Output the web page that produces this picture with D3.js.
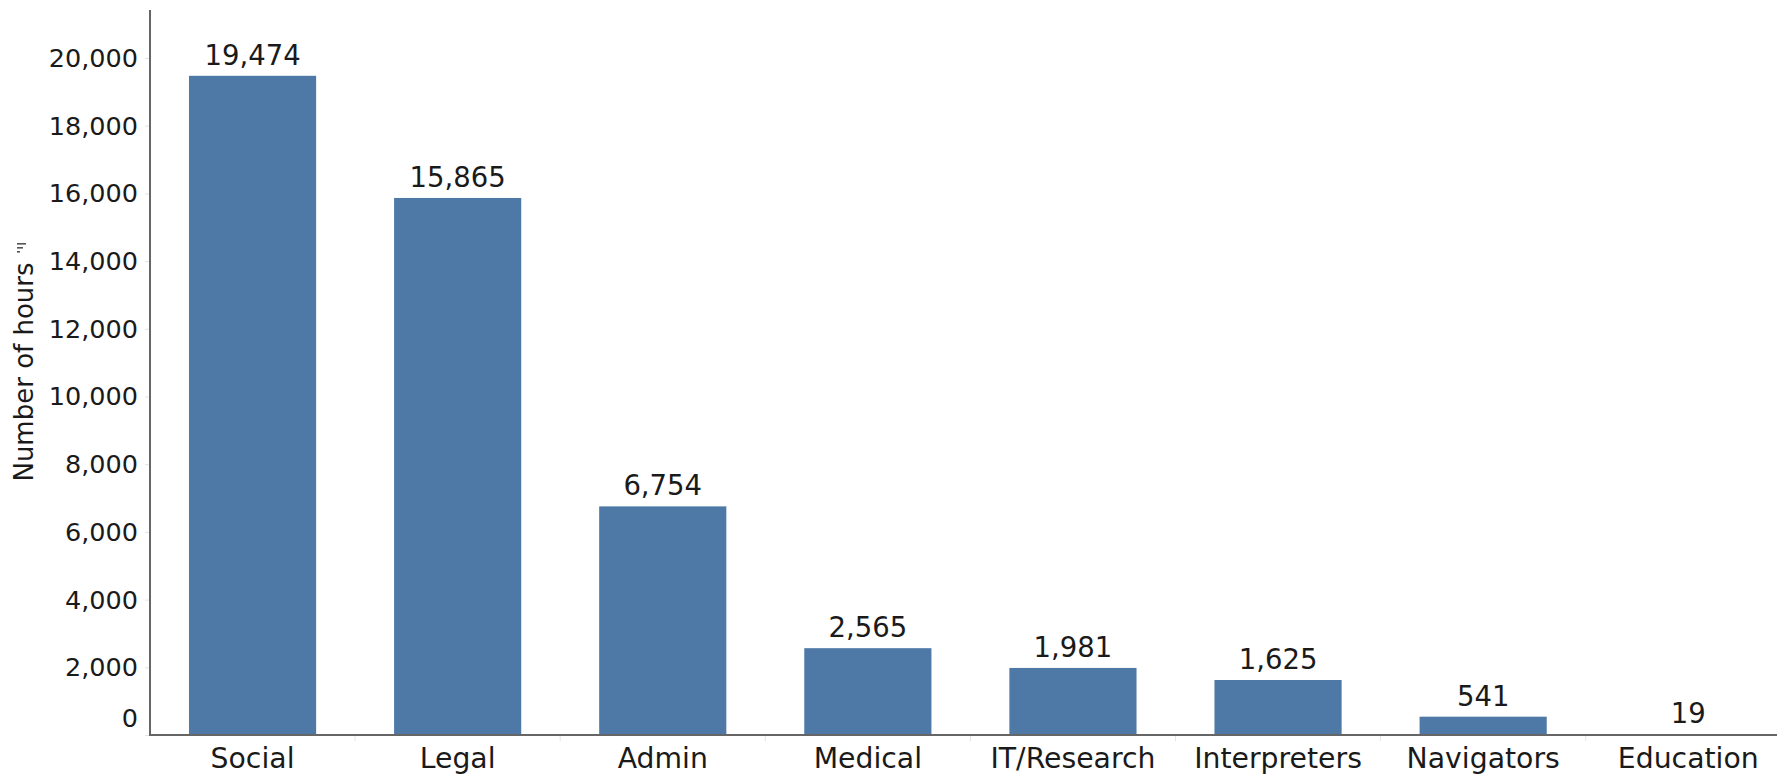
<!DOCTYPE html>
<html>
<head>
<meta charset="utf-8">
<script src="https://cdn.jsdelivr.net/npm/d3@7"></script>
<style>
  body { margin: 0; background: #fff; }
  text { font-family: "DejaVu Sans", sans-serif; fill: #1a1a1a; }
</style>
</head>
<body>
<div id="root"></div>
<script>
// data
var categories = ["Social", "Legal", "Admin", "Medical", "IT/Research", "Interpreters", "Navigators", "Education"];
var hours = [19474, 15865, 6754, 2565, 1981, 1625, 541, 19];
var yTicks = [0, 2000, 4000, 6000, 8000, 10000, 12000, 14000, 16000, 18000, 20000];

var width = 1777, height = 778;
var left = 150, base = 735;

var svg = d3.select("#root")
            .append("svg")
            .attr("width", width)
            .attr("height", height);

var x = d3.scaleBand()
          .domain(categories)
          .range([left, left + 8 * 205.1])
          .paddingInner(0.38)
          .paddingOuter(0.19);

var y = d3.scaleLinear()
          .domain([0, 20000])
          .range([base, 58]);

// y axis
var yAxis = d3.axisLeft(y)
              .tickValues(yTicks)
              .tickSize(5)
              .tickPadding(7)
              .tickFormat(d3.format(","));

var gy = svg.append("g")
   .attr("transform", "translate(" + left + ",0)")
   .call(yAxis);
gy.select(".domain").remove();
gy.selectAll(".tick line").attr("stroke", "#e4e4e4");
gy.selectAll(".tick text")
  .style("font-size", "25.5px")
  .style("font-family", "DejaVu Sans")
  .attr("fill", "#1a1a1a")
  .attr("dy", function(d) { return d === 0 ? "-0.33em" : "0.33em"; });

// x axis (labels only, ticks at band edges)
var xAxis = d3.axisBottom(x).tickSize(0);
var gx = svg.append("g")
   .attr("transform", "translate(0," + base + ")")
   .call(xAxis);
gx.select(".domain").remove();
gx.selectAll(".tick text")
  .style("font-size", "28.3px")
  .style("font-family", "DejaVu Sans")
  .attr("fill", "#1a1a1a")
  .attr("y", 33)
  .attr("dy", 0);

var edge = x.step() * x.paddingInner() / 2;
svg.append("g")
   .selectAll("line")
   .data(categories)
   .enter()
   .append("line")
   .attr("x1", function(d) { return x(d) + x.bandwidth() + edge; })
   .attr("x2", function(d) { return x(d) + x.bandwidth() + edge; })
   .attr("y1", base)
   .attr("y2", base + 6)
   .attr("stroke", "#e4e4e4");

// bars
svg.append("g")
   .selectAll("rect")
   .data(hours)
   .enter()
   .append("rect")
   .attr("x", function(d, i) { return x(categories[i]); })
   .attr("width", x.bandwidth())
   .attr("y", function(d) { return y(d); })
   .attr("height", function(d) { return base - y(d); })
   .attr("fill", "#4e79a7");

// value labels
svg.append("g")
   .selectAll("text")
   .data(hours)
   .enter()
   .append("text")
   .attr("x", function(d, i) { return x(categories[i]) + x.bandwidth() / 2; })
   .attr("y", function(d) { return y(d) - 11; })
   .attr("text-anchor", "middle")
   .style("font-size", "27.5px")
   .text(function(d) { return d3.format(",")(d); });

// axis lines
svg.append("line")
   .attr("x1", left).attr("x2", left)
   .attr("y1", 10).attr("y2", base + 1)
   .attr("stroke", "#666").attr("stroke-width", 2);
svg.append("line")
   .attr("x1", left - 1).attr("x2", width)
   .attr("y1", base).attr("y2", base)
   .attr("stroke", "#666").attr("stroke-width", 2);

// y title
svg.append("text")
   .attr("transform", "translate(33,372) rotate(-90)")
   .attr("text-anchor", "middle")
   .style("font-size", "26px")
   .text("Number of hours");

// little sort icon next to the title
var icon = svg.append("g").attr("transform", "translate(17,243)");
[[0, 9], [4, 6], [8, 3]].forEach(function(s) {
  icon.append("rect")
      .attr("x", 0).attr("y", s[0])
      .attr("width", s[1]).attr("height", 1.6)
      .attr("fill", "#555");
});
</script>
</body>
</html>
